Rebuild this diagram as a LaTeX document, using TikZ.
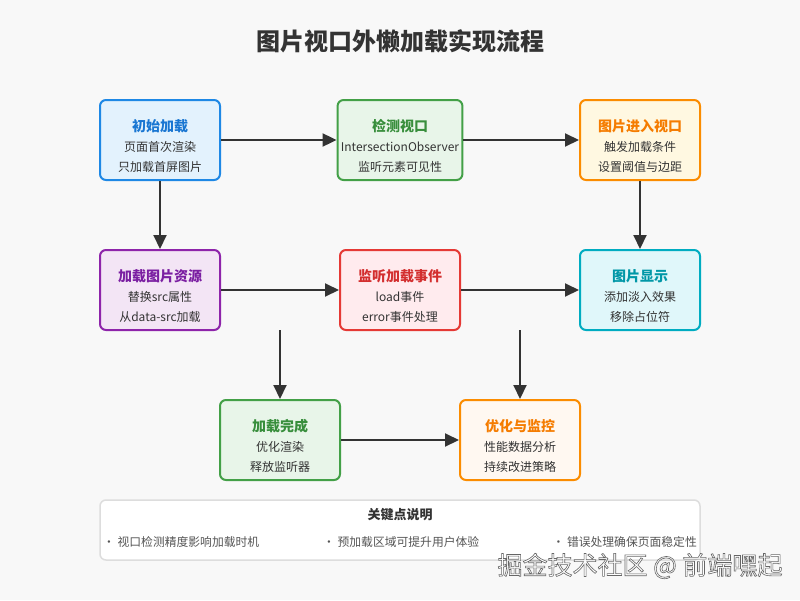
\documentclass[tikz,border=0pt]{standalone}
\usepackage{fontspec}
\setmainfont{Noto Sans CJK SC}
\usepackage{tikz}
\usetikzlibrary{arrows.meta}
\definecolor{BgColor}{HTML}{F8F8F8}
\definecolor{LineColor}{HTML}{333333}
\definecolor{TextColor}{HTML}{333333}
\definecolor{NoteColor}{HTML}{555555}
\definecolor{NoteBorder}{HTML}{DDDDDD}
\definecolor{BlueLine}{HTML}{1E88E5}
\definecolor{BlueFill}{HTML}{E3F2FD}
\definecolor{BlueText}{HTML}{1976D2}
\definecolor{GreenLine}{HTML}{43A047}
\definecolor{GreenFill}{HTML}{E8F5E9}
\definecolor{GreenText}{HTML}{388E3C}
\definecolor{OrangeLine}{HTML}{FB8C00}
\definecolor{OrangeFill}{HTML}{FFF8E1}
\definecolor{OrangeText}{HTML}{F57C00}
\definecolor{PurpleLine}{HTML}{8E24AA}
\definecolor{PurpleFill}{HTML}{F3E5F5}
\definecolor{PurpleText}{HTML}{7B1FA2}
\definecolor{RedLine}{HTML}{E53935}
\definecolor{RedFill}{HTML}{FFEBEE}
\definecolor{RedText}{HTML}{D32F2F}
\definecolor{CyanLine}{HTML}{00ACC1}
\definecolor{CyanFill}{HTML}{E0F7FA}
\definecolor{CyanText}{HTML}{0097A7}
\newcommand{\stagetitle}[2]{\rule{0pt}{24pt}\textcolor{#1}{\bfseries\fontsize{14}{20}\selectfont #2}}
\newcommand{\outlined}[1]{\special{pdf:literal direct 0.4 0.4 0.4 RG 0.6 w 2 Tr}#1\special{pdf:literal direct 0 Tr}}
\tikzstyle{flow} = [line width=2pt, LineColor, -{Triangle[length=14pt, width=13pt]}]
\tikzstyle{note} = [font=\fontsize{11.8}{14}\selectfont, text=NoteColor, inner sep=0pt]
\tikzset{
  stage/.style={rectangle, rounded corners=6pt, line width=2pt, minimum width=120pt, minimum height=80pt, align=center, text=TextColor, font=\fontsize{12}{20}\selectfont},
  blue stage/.style={stage, draw=BlueLine, fill=BlueFill},
  green stage/.style={stage, draw=GreenLine, fill=GreenFill},
  orange stage/.style={stage, draw=OrangeLine, fill=OrangeFill},
  purple stage/.style={stage, draw=PurpleLine, fill=PurpleFill},
  red stage/.style={stage, draw=RedLine, fill=RedFill},
  cyan stage/.style={stage, draw=CyanLine, fill=CyanFill},
  keybox/.style={rectangle, rounded corners=6pt, line width=1.5pt, draw=NoteBorder, fill=white, minimum width=600pt, minimum height=60pt}
}
\begin{document}
\begin{tikzpicture}[x=1pt, y=-1pt]
                % Canvas
                \useasboundingbox (0,0) rectangle (800,600);
                \fill[BgColor] (0,0) rectangle (800,600);
                \node[font=\bfseries\fontsize{24}{28}\selectfont, text=TextColor] (title) at (400,41) {图片视口外懒加载实现流程};

                % First row
                \node[blue stage] (init) at (160,140) {\stagetitle{BlueText}{初始加载}\\ 页面首次渲染\\ 只加载首屏图片};
                \node[green stage] (detect) at (400,140) {\stagetitle{GreenText}{检测视口}\\ IntersectionObserver\\ 监听元素可见性};
                \node[orange stage] (enter) at (640,140) {\stagetitle{OrangeText}{图片进入视口}\\ 触发加载条件\\ 设置阈值与边距};

                % Second row
                \node[purple stage] (fetch) at (160,290) {\stagetitle{PurpleText}{加载图片资源}\\ 替换src属性\\ 从data-src加载};
                \node[red stage] (listen) at (400,290) {\stagetitle{RedText}{监听加载事件}\\ load事件\\ error事件处理};
                \node[cyan stage] (display) at (640,290) {\stagetitle{CyanText}{图片显示}\\ 添加淡入效果\\ 移除占位符};

                % Third row
                \node[green stage] (done) at (280,440) {\stagetitle{GreenText}{加载完成}\\ 优化渲染\\ 释放监听器};
                \node[orange stage, fill=OrangeFill!60!orange!12] (monitor) at (520,440) {\stagetitle{OrangeText}{优化与监控}\\ 性能数据分析\\ 持续改进策略};

                % Connectors
                \coordinate (leftdrop) at (280,330);
                \coordinate (rightdrop) at (520,330);
                \draw[flow] (init) -- (detect);
                \draw[flow] (detect) -- (enter);
                \draw[flow] (init) -- (fetch);
                \draw[flow] (enter) -- (display);
                \draw[flow] (fetch) -- (listen);
                \draw[flow] (listen) -- (display);
                \draw[flow] (leftdrop) -- (done);
                \draw[flow] (rightdrop) -- (monitor);
                \draw[flow] (done) -- (monitor);

                % Key points
                \node[keybox] (keys) at (400,530) {};
                \node[font=\bfseries\fontsize{13}{16}\selectfont, text=TextColor] (keytitle) at (400,515) {关键点说明};
                \node[note, anchor=west] (keyone) at (103,542) {• 视口检测精度影响加载时机};
                \node[note, anchor=west] (keytwo) at (323,542) {• 预加载区域可提升用户体验};
                \node[note, anchor=east] (keythree) at (697,542) {• 错误处理确保页面稳定性};

                % Watermark
                \node[font=\fontsize{25}{28}\selectfont, text=white] (mark) at (640,566) {\outlined{掘金技术社区 @ 前端嘿起}};
            \end{tikzpicture}
\end{document}
